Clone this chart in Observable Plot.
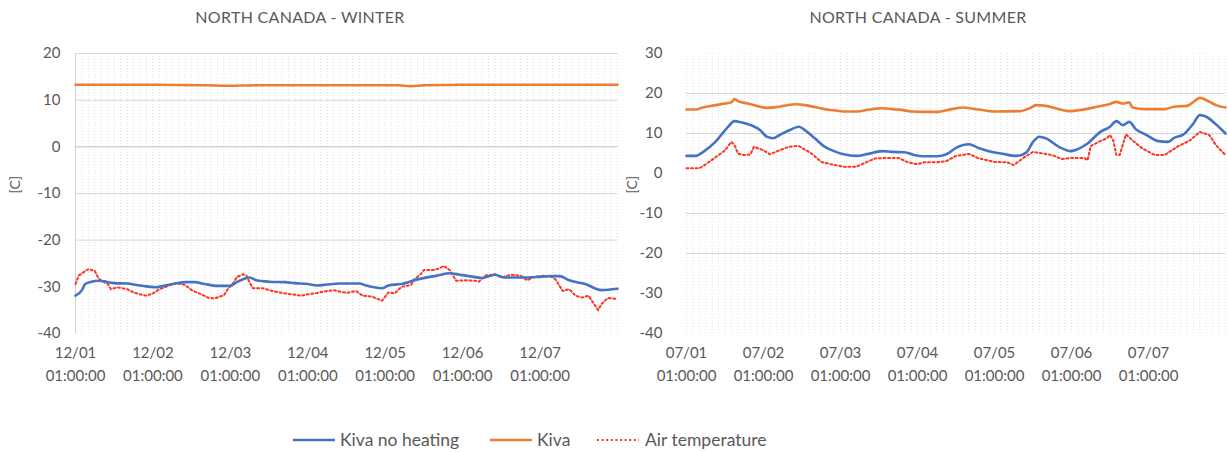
<!DOCTYPE html>
<html>
<head>
<meta charset="utf-8">
<script src="https://cdn.jsdelivr.net/npm/d3@7"></script>
<script src="https://cdn.jsdelivr.net/npm/@observablehq/plot@0.6"></script>
<style>
  body { margin: 0; background: #fff; font-family: Lato, "Open Sans", sans-serif; color: #595959; }
  #wrap { position: relative; width: 1228px; height: 452px; overflow: hidden; background: #fff; }
  .title { position: absolute; top: 7px; font-size: 16px; color: #595959; transform: translateX(-50%); white-space: nowrap; letter-spacing: 0.3px; }
  .chart { position: absolute; top: 0; }
  .leg { position: absolute; top: 428px; font-size: 17.5px; color: #595959; white-space: nowrap; line-height: 24px; }
  .sw { position: absolute; top: 428px; }
</style>
</head>
<body>
<div id="wrap">
  <div class="title" style="left:300px">NORTH CANADA - WINTER</div>
  <div class="title" style="left:918px">NORTH CANADA - SUMMER</div>
  <div id="left" class="chart" style="left:0px"></div>
  <div id="right" class="chart" style="left:620px"></div>
  <div id="legend"></div>
</div>
<script>
// ---- categories / ticks ----
const hourTicks = [0, 24, 48, 72, 96, 120, 144];
const winterDates = ["12/01", "12/02", "12/03", "12/04", "12/05", "12/06", "12/07"];
const summerDates = ["07/01", "07/02", "07/03", "07/04", "07/05", "07/06", "07/07"];
const tickTime = "01:00:00";
const winterYTicks = [-40, -30, -20, -10, 0, 10, 20];
const summerYTicks = [-40, -30, -20, -10, 0, 10, 20, 30];
const seriesNames = ["Kiva no heating", "Kiva", "Air temperature"];
const yLabel = "[C]";

// ---- winter series (hour offset, temperature) ----
const wNoHeatH = [0,2,3,5,7,9,10,12,16,19,22,25,27,31,34,37,40,44,48,50,54,56,60,65,68,72,75,78,82,88,90,95,97,101,106,112,116,119,122,126,130,133,139,143,147,150,153,158,163,168];
const wNoHeatV = [-31.9,-30.7,-29.4,-28.9,-28.7,-28.8,-29.0,-29.2,-29.3,-29.6,-29.9,-30.1,-29.8,-29.3,-29.0,-29.0,-29.4,-29.8,-29.8,-29.0,-28.0,-28.6,-28.9,-29.0,-29.2,-29.4,-29.7,-29.5,-29.3,-29.3,-29.7,-30.3,-29.7,-29.4,-28.4,-27.6,-27.1,-27.4,-27.7,-28.1,-27.4,-28.0,-28.0,-27.9,-27.7,-27.7,-28.6,-29.4,-30.7,-30.4];
const wKivaH = [0,24,40,48,56,60,80,100,104,108,120,140,168];
const wKivaV = [13.3,13.3,13.2,13.1,13.2,13.2,13.2,13.2,13.0,13.2,13.3,13.3,13.3];
const wAirH = [0,1,3,4,6,7,8,10,11,13,16,18,20,22,24,26,28,31,34,36,39,41,43,46,47,49,50,52,53,54,55,58,61,64,67,70,72,75,78,80,81,84,87,89,92,95,97,99,101,104,105,107,108,111,113,114,116,118,121,124,125,127,130,132,135,138,140,142,145,148,149,151,153,155,157,159,162,163,165,168];
const wAirV = [-29.4,-27.6,-26.6,-26.2,-26.6,-28.0,-28.7,-29.4,-30.5,-30.1,-30.5,-31.2,-31.6,-31.9,-31.4,-30.5,-30.0,-29.2,-29.6,-30.7,-31.6,-32.3,-32.5,-31.8,-30.7,-29.1,-27.9,-27.3,-27.6,-29.1,-30.3,-30.3,-30.9,-31.3,-31.6,-31.9,-31.6,-31.3,-30.9,-30.7,-30.9,-31.3,-30.9,-31.9,-32.1,-33.0,-31.2,-31.4,-30.0,-29.6,-28.4,-27.3,-26.4,-26.4,-26.0,-25.5,-26.4,-28.7,-28.6,-28.7,-28.9,-27.6,-27.3,-28.0,-27.4,-27.6,-28.6,-27.9,-27.6,-27.9,-28.6,-30.9,-30.5,-31.9,-32.3,-31.9,-35.0,-33.7,-32.4,-32.6];

// ---- summer series ----
const sNoHeatH = [0,3,5,9,12,13,15,17,20,23,25,27,29,32,35,37,40,43,46,49,53,56,61,64,68,71,74,78,81,84,88,91,94,98,103,106,108,110,112,116,120,122,125,129,132,134,136,138,140,143,147,150,152,155,158,160,162,165,168];
const sNoHeatV = [4.4,4.4,5.3,7.9,10.8,11.7,13.1,12.8,12.1,10.8,9.2,8.8,9.6,10.8,11.7,10.8,8.8,6.7,5.6,4.8,4.4,4.8,5.6,5.4,5.3,4.6,4.3,4.3,4.8,6.4,7.3,6.4,5.6,5.0,4.4,5.3,7.9,9.2,8.8,6.7,5.6,6.1,7.5,10.4,11.7,13.1,12.1,12.9,11.1,9.8,8.1,7.9,8.9,9.8,12.5,14.6,14.2,12.3,10.0];
const sKivaH = [0,3,5,9,12,14,15,16,19,22,25,28,31,34,37,40,43,46,49,53,57,61,64,67,70,74,78,81,86,91,96,104,107,109,112,115,119,123,128,132,134,136,138,139,143,149,152,156,158,160,163,165,168];
const sKivaV = [16.0,16.0,16.5,17.1,17.5,17.8,18.6,18.1,17.5,16.9,16.4,16.6,17.0,17.3,17.1,16.6,16.1,15.8,15.5,15.5,16.0,16.3,16.1,15.9,15.5,15.4,15.4,15.8,16.5,16.0,15.5,15.6,16.3,17.1,16.9,16.3,15.6,15.9,16.7,17.4,17.9,17.5,17.8,16.5,16.1,16.1,16.7,16.9,17.9,18.9,17.9,17.1,16.5];
const sAirH = [0,4,6,10,12,14,15,16,18,20,21,24,26,29,32,35,36,39,42,45,49,53,56,59,63,66,69,72,74,78,81,84,88,91,96,100,102,105,108,111,114,117,120,124,125,126,129,131,132,133,134,135,137,139,142,146,149,153,157,160,163,165,168];
const sAirV = [1.3,1.3,2.3,4.6,5.8,7.9,7.1,5.0,4.6,4.8,6.7,5.8,4.8,5.8,6.7,6.9,6.4,5.0,2.9,2.3,1.7,1.7,2.8,3.8,3.9,3.9,2.8,2.3,2.8,2.8,3.1,4.4,4.9,3.8,2.9,2.8,2.1,3.9,5.4,5.0,4.6,3.6,3.9,3.9,3.3,6.9,8.1,8.8,9.6,8.3,4.6,4.6,9.8,8.3,6.3,4.6,4.6,6.7,8.3,10.4,9.6,7.1,4.6];

const BLUE = "#4472C4", ORANGE = "#ED7D31", RED = "#FF3322", TXT = "#595959";
const DOTS = "2,2.6";
const rows = (H, V) => H.map((h, i) => ({h, v: V[i]}));

function makeChart(o) {
  return Plot.plot({
    width: o.width, height: 400,
    marginLeft: o.ml, marginRight: o.mr, marginTop: 53, marginBottom: 67,
    style: {fontFamily: "Lato, 'Open Sans', sans-serif", fontSize: "15px", color: TXT, background: "transparent", overflow: "visible"},
    x: {domain: [0, 168], axis: null},
    y: {domain: o.yDomain, ticks: o.yTicks, tickSize: 0, tickPadding: o.pad, tickFormat: d => String(d), label: null},
    marks: [
      Plot.ruleX(d3.range(0, 169, 2), {stroke: "#dedede", strokeDasharray: "1,2"}),
      Plot.ruleY(o.grid, {stroke: "#d9d9d9"}),
      ...(o.zero ? [Plot.ruleY([0], {stroke: "#bfbfbf"})] : []),
      ...(o.axisLine ? [Plot.ruleX([0], {stroke: "#d0d0d0"})] : []),
      Plot.line(rows(o.air[0], o.air[1]), {x: "h", y: "v", stroke: RED, strokeWidth: 2, strokeDasharray: DOTS}),
      Plot.line(rows(o.kiva[0], o.kiva[1]), {x: "h", y: "v", stroke: ORANGE, strokeWidth: 2.6, curve: "monotone-x"}),
      Plot.line(rows(o.noheat[0], o.noheat[1]), {x: "h", y: "v", stroke: BLUE, strokeWidth: 2.6, curve: "monotone-x"}),
      Plot.text(hourTicks, {x: d => d, frameAnchor: "bottom", dy: 24, text: (d, i) => o.dates[i], fill: TXT, fontSize: 15}),
      Plot.text(hourTicks, {x: d => d, frameAnchor: "bottom", dy: 47, text: () => tickTime, fill: TXT, fontSize: 15}),
      Plot.text([yLabel], {frameAnchor: "left", dx: -o.labelDx, rotate: -90, fill: TXT, fontSize: 14})
    ]
  });
}

document.getElementById("left").appendChild(makeChart({
  width: 620, ml: 75, mr: 3, pad: 15, yDomain: [-40, 20], yTicks: winterYTicks,
  grid: [20, 10, -10, -20], zero: true, axisLine: true, dates: winterDates, labelDx: 60,
  noheat: [wNoHeatH, wNoHeatV], kiva: [wKivaH, wKivaV], air: [wAirH, wAirV]
}));
document.getElementById("right").appendChild(makeChart({
  width: 608, ml: 66, mr: 3, pad: 24, yDomain: [-40, 30], yTicks: summerYTicks,
  grid: [20, 10, -10, -20], zero: false, axisLine: false, dates: summerDates, labelDx: 54,
  noheat: [sNoHeatH, sNoHeatV], kiva: [sKivaH, sKivaV], air: [sAirH, sAirV]
}));

// legend
const legendItems = [
  {name: seriesNames[0], color: BLUE, dash: null, x: 293, tx: 340},
  {name: seriesNames[1], color: ORANGE, dash: null, x: 490, tx: 537},
  {name: seriesNames[2], color: RED, dash: DOTS, x: 597, tx: 645}
];
const leg = document.getElementById("legend");
for (const it of legendItems) {
  const ns = "http://www.w3.org/2000/svg";
  const s = document.createElementNS(ns, "svg");
  s.setAttribute("class", "sw"); s.setAttribute("width", 44); s.setAttribute("height", 24);
  s.style.left = it.x + "px";
  const l = document.createElementNS(ns, "line");
  l.setAttribute("x1", 0); l.setAttribute("x2", 42); l.setAttribute("y1", 12); l.setAttribute("y2", 12);
  l.setAttribute("stroke", it.color); l.setAttribute("stroke-width", it.dash ? 2 : 2.6);
  if (it.dash) l.setAttribute("stroke-dasharray", it.dash);
  s.appendChild(l); leg.appendChild(s);
  const t = document.createElement("div");
  t.className = "leg"; t.style.left = it.tx + "px"; t.textContent = it.name;
  leg.appendChild(t);
}
</script>
</body>
</html>
